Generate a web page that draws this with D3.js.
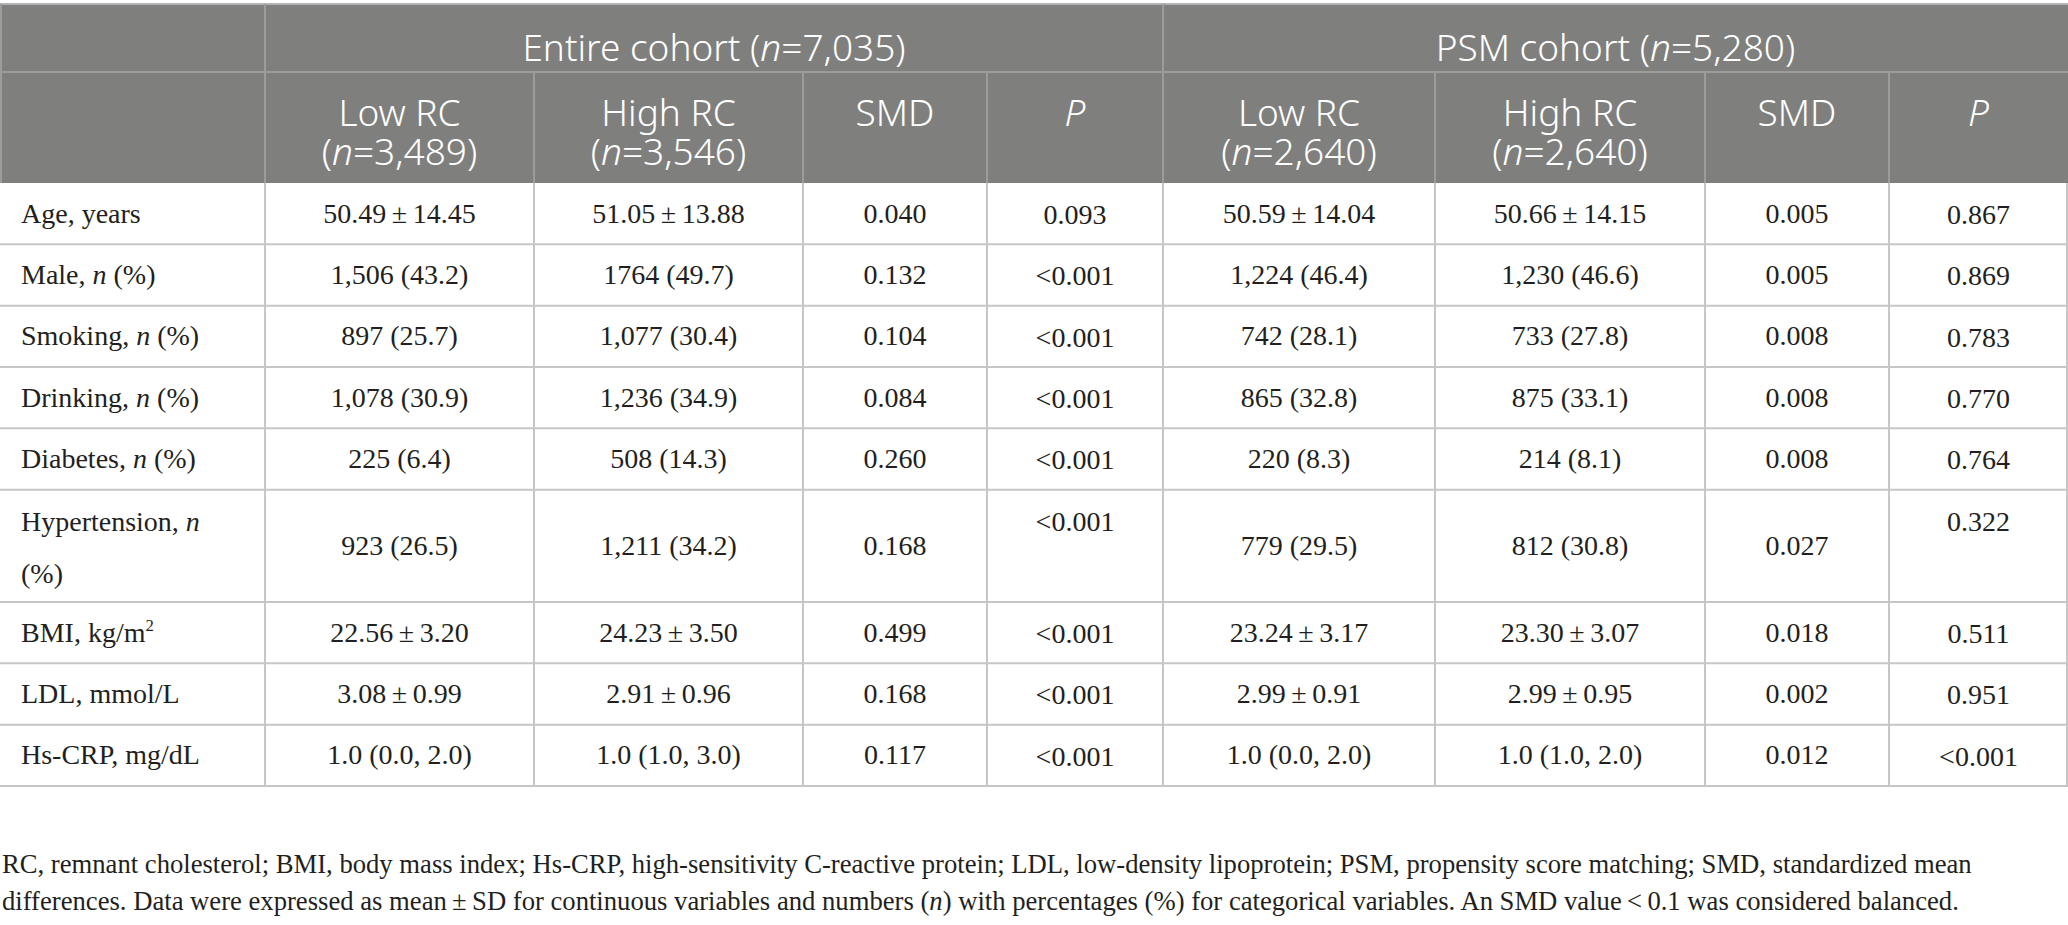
<!DOCTYPE html>
<html lang="en">

<head>
    <meta charset="UTF-8">
    <title>Baseline characteristics - D3.JS</title>
    <style>
        body {
            margin: 0;
            background: #fff;
        }

        .head text {
            font-family: "Noto Sans", "Open Sans", sans-serif;
            font-size: 37px;
            font-weight: 300;
            fill: #fff;
        }

        .body text,
        .note text {
            font-family: "Liberation Serif", "DejaVu Serif", serif;
            fill: #231f20;
        }

        .body text {
            font-size: 28px;
        }

        .note text {
            font-size: 26px;
        }
    </style>
    <script src="https://d3js.org/d3.v7.min.js"></script>
</head>

<body>
    <div class="table"></div>
</body>
<script>
    const groupHeaders = ['Entire cohort (n=7,035)', 'PSM cohort (n=5,280)']
    const subHeaders = [
        ['Low RC', '(n=3,489)'], ['High RC', '(n=3,546)'], ['SMD'], ['P'],
        ['Low RC', '(n=2,640)'], ['High RC', '(n=2,640)'], ['SMD'], ['P']
    ]
    const rowLabels = [
        ['Age, years'], ['Male, n (%)'], ['Smoking, n (%)'], ['Drinking, n (%)'],
        ['Diabetes, n (%)'], ['Hypertension, n', '(%)'], ['BMI, kg/m^2'],
        ['LDL, mmol/L'], ['Hs-CRP, mg/dL']
    ]
    const entireLow = ['50.49 ± 14.45', '1,506 (43.2)', '897 (25.7)', '1,078 (30.9)', '225 (6.4)',
        '923 (26.5)', '22.56 ± 3.20', '3.08 ± 0.99', '1.0 (0.0, 2.0)']
    const entireHigh = ['51.05 ± 13.88', '1764 (49.7)', '1,077 (30.4)', '1,236 (34.9)', '508 (14.3)',
        '1,211 (34.2)', '24.23 ± 3.50', '2.91 ± 0.96', '1.0 (1.0, 3.0)']
    const entireSMD = ['0.040', '0.132', '0.104', '0.084', '0.260', '0.168', '0.499', '0.168', '0.117']
    const entireP = ['0.093', '<0.001', '<0.001', '<0.001', '<0.001', '<0.001', '<0.001', '<0.001', '<0.001']
    const psmLow = ['50.59 ± 14.04', '1,224 (46.4)', '742 (28.1)', '865 (32.8)', '220 (8.3)',
        '779 (29.5)', '23.24 ± 3.17', '2.99 ± 0.91', '1.0 (0.0, 2.0)']
    const psmHigh = ['50.66 ± 14.15', '1,230 (46.6)', '733 (27.8)', '875 (33.1)', '214 (8.1)',
        '812 (30.8)', '23.30 ± 3.07', '2.99 ± 0.95', '1.0 (1.0, 2.0)']
    const psmSMD = ['0.005', '0.005', '0.008', '0.008', '0.008', '0.027', '0.018', '0.002', '0.012']
    const psmP = ['0.867', '0.869', '0.783', '0.770', '0.764', '0.322', '0.511', '0.951', '<0.001']
    const footnote = [
        'RC, remnant cholesterol; BMI, body mass index; Hs-CRP, high-sensitivity C-reactive protein; LDL, low-density lipoprotein; PSM, propensity score matching; SMD, standardized mean',
        'differences. Data were expressed as mean ± SD for continuous variables and numbers (n) with percentages (%) for categorical variables. An SMD value < 0.1 was considered balanced.'
    ]

    const columns = [entireLow, entireHigh, entireSMD, entireP, psmLow, psmHigh, psmSMD, psmP]
    // p columns keep the first-line position in tall rows
    const topAligned = [false, false, false, true, false, false, false, true]

    // ---- layout ----
    const width = 2068, height = 925
    const colWeights = [265, 269, 269, 184, 176, 272, 270, 184, 179]
    const colEdges = [0, ...d3.cumsum(colWeights)]
    const xScale = d3.scaleLinear().domain([0, d3.sum(colWeights)]).range([0, width])
    const rowWeights = rowLabels.map(l => l.length > 1 ? 1.83 : 1)
    const rowEdges = [0, ...d3.cumsum(rowWeights)]
    const yScale = d3.scaleLinear().domain([0, d3.sum(rowWeights)]).range([183, 786])
    const head = { top: 4, mid: 72, bottom: 183 }
    const noteWidth = 1970   // first footnote line runs to here in the reference

    const svg = d3.select('.table').append('svg')
        .attr('width', width)
        .attr('height', height)

    // header block
    const gHead = svg.append('g').attr('class', 'head')
    gHead.append('rect')
        .attr('x', 0).attr('y', head.top)
        .attr('width', width).attr('height', head.bottom - head.top)
        .attr('fill', '#7f807e')
    gHead.append('line')
        .attr('x1', 0).attr('x2', width).attr('y1', head.top).attr('y2', head.top)
        .attr('stroke', '#b4b4b4').attr('stroke-width', 2)
    gHead.append('line')
        .attr('x1', 0).attr('x2', width).attr('y1', head.mid).attr('y2', head.mid)
        .attr('stroke', '#9c9c9b').attr('stroke-width', 2)
    gHead.append('line')
        .attr('x1', 1).attr('x2', 1).attr('y1', head.top).attr('y2', head.bottom)
        .attr('stroke', '#9c9c9b').attr('stroke-width', 2)
    // group separators span both header rows, inner separators only the lower row
    gHead.selectAll('line.v')
        .data(colEdges.slice(1, -1))
        .join('line')
        .attr('class', 'v')
        .attr('x1', d => xScale(d)).attr('x2', d => xScale(d))
        .attr('y1', (d, i) => (i === 0 || i === 4) ? head.top : head.mid)
        .attr('y2', head.bottom)
        .attr('stroke', '#9c9c9b').attr('stroke-width', 2)

    // mixed styling: italic n / P, superscript ^2
    const rich = (sel, str) => {
        str.split(/(\bn\b|\bP\b|\^2)/).filter(s => s !== '').forEach(part => {
            if (part === 'n' || part === 'P') sel.append('tspan').attr('font-style', 'italic').text(part)
            else if (part === '^2') sel.append('tspan').attr('font-size', '0.6em').attr('dy', -11).text('2')
            else sel.append('tspan').text(part.replace(/ ± /g, '\u2009±\u2009').replace(/ < /g, '\u2009<\u2009'))
        })
    }

    gHead.selectAll('text.group')
        .data(groupHeaders)
        .join('text')
        .attr('class', 'group')
        .attr('x', (d, i) => (xScale(colEdges[1 + i * 4]) + xScale(colEdges[5 + i * 4])) / 2)
        .attr('y', 61)
        .attr('text-anchor', 'middle')
        .each(function (d) { rich(d3.select(this), d) })

    subHeaders.forEach((lines, c) => {
        const cx = (xScale(colEdges[c + 1]) + xScale(colEdges[c + 2])) / 2
        lines.forEach((line, k) => {
            gHead.append('text')
                .attr('x', cx)
                .attr('y', 126 + k * 39)
                .attr('text-anchor', 'middle')
                .call(rich, line)
        })
    })

    // body
    const gBody = svg.append('g').attr('class', 'body')
    gBody.selectAll('line.h')
        .data(rowEdges.slice(1))
        .join('line')
        .attr('class', 'h')
        .attr('x1', 0).attr('x2', width)
        .attr('y1', d => yScale(d)).attr('y2', d => yScale(d))
        .attr('stroke', '#c6c6c6').attr('stroke-width', 2)
    gBody.selectAll('line.v')
        .data(colEdges.slice(1))
        .join('line')
        .attr('class', 'v')
        .attr('x1', d => Math.min(xScale(d), width - 1)).attr('x2', d => Math.min(xScale(d), width - 1))
        .attr('y1', head.bottom).attr('y2', yScale(rowEdges[rowEdges.length - 1]))
        .attr('stroke', '#c6c6c6').attr('stroke-width', 2)

    rowLabels.forEach((lines, r) => {
        const top = yScale(rowEdges[r]), bottom = yScale(rowEdges[r + 1])
        const mid = (top + bottom) / 2
        lines.forEach((line, k) => {
            gBody.append('text')
                .attr('x', 21)
                .attr('y', lines.length > 1 ? top + 41 + k * 52 : mid + 9)
                .call(rich, line)
        })
        columns.forEach((col, c) => {
            const cx = (xScale(colEdges[c + 1]) + xScale(colEdges[c + 2])) / 2
            gBody.append('text')
                .attr('x', cx)
                .attr('y', topAligned[c] ? top + 41 : mid + 9)
                .attr('text-anchor', 'middle')
                .call(rich, col[r])
        })
    })

    // footnote, font size fitted so the first line ends where the reference's does
    const note = svg.append('g').attr('class', 'note')
    const noteText = note.selectAll('text')
        .data(footnote)
        .join('text')
        .attr('x', 2)
        .attr('y', (d, i) => 873 + i * 37)
        .each(function (d) { rich(d3.select(this), d) })
    const w0 = noteText.nodes()[0].getComputedTextLength()
    note.style('font-size', (26 * noteWidth / w0).toFixed(2) + 'px')
    noteText.style('font-size', 'inherit')
</script>

</html>
